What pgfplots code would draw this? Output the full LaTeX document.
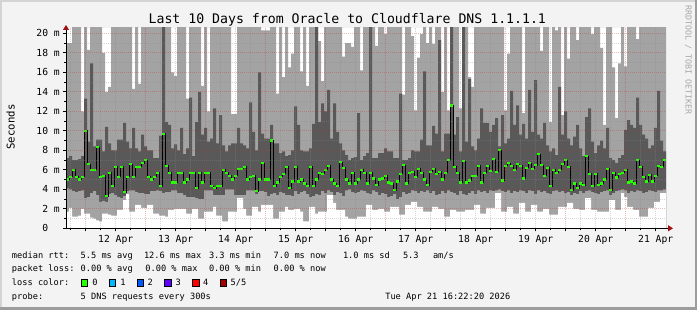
\documentclass[border=0pt]{standalone}
\usepackage{pgfplots}
\pgfplotsset{compat=1.18}
\usepackage{pgfplotstable}
\usepackage{fontspec}
\usetikzlibrary{arrows.meta}
\newfontfamily\rrd{DejaVu Sans Mono}
\definecolor{bgc}{HTML}{F3F3F3}
\definecolor{frlight}{HTML}{D4D4D4}
\definecolor{frdark}{HTML}{9C9C9C}
\definecolor{smokelight}{HTML}{A3A3A3}
\definecolor{smokedark}{HTML}{595959}
\definecolor{medgreen}{HTML}{26FF00}
\definecolor{mgridc}{HTML}{C03030}
\definecolor{gridc}{HTML}{8C8C8C}
\definecolor{arrowred}{HTML}{A01010}
\definecolor{sidegray}{HTML}{A8A8A8}
\definecolor{lc0}{HTML}{26FF00}
\definecolor{lc1}{HTML}{00B8FF}
\definecolor{lc2}{HTML}{0059FF}
\definecolor{lc3}{HTML}{5E00FF}
\definecolor{lc4}{HTML}{FF0000}
\definecolor{lc5}{HTML}{A00000}

\pgfplotstableread{
x lo q1 med q3 hi
0 1.7 4.1 5.0 7.2 19.0
3 2.1 4.0 5.3 7.4 19.0
6 1.2 3.8 6.0 7.0 21
9 1.2 3.7 5.3 7.0 21
12 1.3 3.8 5.0 7.1 21
15 2.0 3.9 5.3 7.4 12.0
18 1.5 3.1 10.0 13.3 21
21 1.5 3.2 6.6 8.9 18.3
24 1.1 3.6 6.0 16.9 21
27 1.0 3.8 6.0 8.4 21
30 0.8 3.4 8.3 9.1 21
33 0.7 2.7 5.3 9.1 21
36 1.5 2.8 5.4 7.9 18.0
39 1.5 2.7 3.3 10.4 14.0
42 1.4 3.5 5.7 8.7 14.5
45 1.3 3.6 4.3 8.0 21
48 1.3 3.4 6.3 8.0 21
51 1.9 3.2 5.3 9.1 21
54 1.9 3.1 6.3 9.1 21
57 2.9 3.3 3.7 10.8 21
60 3.5 3.8 5.3 8.9 21
63 1.7 3.9 6.6 8.2 21
66 1.7 3.9 5.3 10.3 14.3
69 2.4 3.7 6.3 8.2 21
72 2.4 3.6 6.3 7.9 14.8
75 2.1 3.6 6.7 9.6 21
78 2.1 3.5 7.0 8.4 21
81 2.4 3.5 5.3 8.0 21
84 2.4 3.8 5.0 8.0 21
87 1.5 3.8 5.3 7.2 21
90 1.5 3.9 5.7 7.2 21
93 1.3 3.8 4.3 9.5 21
96 1.3 3.6 9.7 21 21
99 1.2 3.7 6.4 10.9 21
102 1.9 3.7 5.7 10.6 21
105 1.9 3.9 4.7 8.2 16.0
108 2.0 3.9 4.7 8.6 15.6
111 2.0 3.6 5.7 8.0 21
114 2.0 3.6 5.7 10.3 21
117 2.0 3.4 4.7 7.6 21
120 1.5 3.2 5.0 8.2 13.3
123 1.5 3.2 5.7 13.4 21
126 2.0 3.2 5.7 7.4 21
129 2.0 3.1 4.1 10.9 21
132 1.0 3.0 5.7 14.0 21
135 1.0 3.0 4.7 9.6 14.6
138 1.7 3.9 5.7 10.3 21
141 1.7 3.9 5.7 8.9 12.0
144 1.7 3.9 4.3 9.2 21
147 2.2 3.4 4.1 12.3 21
150 1.3 3.4 4.3 8.7 21
153 1.3 3.4 4.3 11.6 21
156 0.7 3.4 6.0 8.5 21
159 0.7 4.0 5.7 7.9 21
162 1.7 4.0 5.4 8.5 21
165 1.7 4.0 5.0 8.7 11.7
168 1.7 3.4 5.4 8.7 11.7
171 3.1 3.4 6.1 10.3 21
174 3.1 3.4 6.1 8.7 21
177 2.0 3.4 6.3 8.5 21
180 1.3 3.9 5.0 8.2 21
183 1.3 3.9 5.3 12.9 21
186 2.2 3.9 5.4 9.9 21
189 2.2 3.5 3.8 8.0 21
192 1.7 3.8 5.0 16.0 21
195 2.4 3.8 6.7 9.7 20.3
198 2.4 3.7 5.0 9.2 20.3
201 2.4 3.3 5.0 9.2 20.3
204 2.4 3.5 9.0 10.6 21
207 1.0 3.6 4.3 8.7 21
210 1.0 3.4 4.7 8.7 13.8
213 1.7 3.7 5.3 7.7 21
216 1.7 3.6 5.6 7.9 15.5
219 2.2 3.4 6.3 7.4 21
222 1.9 3.4 4.1 7.5 16.5
225 1.9 3.3 4.8 8.0 17.9
228 2.0 3.8 6.3 12.5 21
231 2.0 3.5 4.8 10.6 21
234 1.7 3.7 5.0 8.0 16.1
237 0.7 3.8 4.6 7.9 21
240 0.7 3.5 4.3 7.9 14.6
243 2.2 3.2 6.3 8.2 21
246 2.2 3.3 4.3 10.7 21
249 1.5 3.5 5.0 21 21
252 1.7 3.4 5.7 10.9 19.2
255 1.7 3.8 5.6 12.8 15.1
258 1.7 3.6 6.0 12.0 21
261 3.4 3.9 6.4 14.2 21
264 3.4 3.7 5.0 9.2 21
267 2.6 3.4 4.6 12.8 21
270 1.9 3.7 4.3 9.9 21
273 1.9 3.6 6.8 8.7 21
276 1.9 3.3 6.2 8.0 17.6
279 1.2 3.9 5.0 7.5 19.0
282 1.0 4.0 4.6 7.0 19.0
285 1.0 3.7 5.7 7.2 18.6
288 1.0 3.6 4.6 7.3 21
291 1.2 3.7 5.0 11.8 21
294 1.2 3.9 6.0 7.0 16.2
297 1.2 3.8 5.7 7.4 21
300 2.4 3.6 4.6 7.7 21
303 2.4 3.5 5.7 21 21
306 1.9 3.9 5.1 7.2 21
309 1.9 3.7 4.4 7.2 18.7
312 2.0 3.4 5.0 7.7 21
315 2.0 3.6 5.1 7.7 21
318 1.7 3.5 5.4 8.2 19.9
321 1.7 3.2 4.7 7.9 21
324 2.2 3.3 4.6 7.9 21
327 2.2 3.5 3.9 7.2 21
330 2.2 3.0 4.8 7.2 21
333 1.4 3.2 5.6 13.8 21
336 1.4 3.7 6.5 7.0 13.7
339 2.4 3.5 4.6 7.0 21
342 2.4 3.6 5.7 7.2 21
345 2.7 3.9 5.8 8.0 19.7
348 2.7 3.8 5.3 7.9 12.1
351 2.2 3.6 6.1 7.9 17.5
354 2.2 3.8 5.7 9.1 19.9
357 1.7 3.7 5.0 16.1 21
360 1.7 3.9 4.4 8.5 19.0
363 1.7 3.6 5.8 8.5 21
366 2.2 3.8 6.1 10.5 18.9
369 2.2 3.4 5.6 9.7 21
372 2.0 3.5 5.8 19.3 21
375 2.0 3.8 5.0 7.9 14.0
378 1.2 3.6 5.7 9.7 21
381 1.2 3.9 7.0 9.7 12.1
384 1.9 3.7 12.6 21 21
387 1.9 3.6 6.3 9.6 21
390 1.7 3.4 5.7 11.4 21
393 1.7 3.8 4.7 7.9 12.3
396 1.7 3.5 6.9 21 21
399 1.9 3.4 4.7 8.9 21
402 1.9 3.6 4.9 15.3 15.5
405 1.9 3.8 5.4 8.4 14.5
408 2.4 3.5 5.4 8.0 21
411 2.4 3.9 6.4 9.2 21
414 1.5 3.7 4.7 12.3 21
417 1.5 3.8 5.7 10.8 21
420 2.1 3.6 6.4 10.8 21
423 2.1 3.9 5.9 9.9 21
426 2.1 3.8 7.1 10.6 21
429 3.6 3.9 5.8 11.3 21
432 3.6 4.0 8.0 8.4 21
435 1.7 3.8 4.9 11.6 21
438 1.7 3.7 6.4 8.7 12.1
441 2.2 3.9 6.7 9.2 17.9
444 2.2 3.6 6.4 14.1 21
447 1.5 3.8 6.0 10.6 21
450 1.5 3.7 6.6 12.6 21
453 2.6 3.9 6.4 9.6 21
456 2.6 3.8 5.1 10.7 11.8
459 1.7 3.6 6.2 9.2 21
462 1.7 3.9 6.7 14.2 21
465 2.4 3.8 6.1 9.9 21
468 2.4 3.5 6.5 15.2 21
471 1.7 3.9 7.6 9.6 21
474 1.7 3.7 6.5 9.2 18.2
477 2.0 3.8 5.4 10.8 21
480 2.0 3.6 6.2 8.5 21
483 1.4 3.5 4.3 7.9 10.9
486 1.4 3.8 6.0 8.2 21
489 1.4 3.9 5.7 7.5 20.3
492 2.2 3.7 6.0 14.5 21
495 2.2 3.8 6.6 9.6 11.6
498 2.2 3.6 7.0 12.0 21
501 2.6 3.7 6.3 9.2 17.4
504 2.6 3.4 3.9 8.5 21
507 2.0 3.6 4.6 9.4 21
510 2.0 3.5 4.1 10.6 19.3
513 1.9 3.8 4.6 8.2 21
516 1.9 3.6 4.4 7.4 21
519 3.1 3.8 7.4 11.4 21
522 3.1 3.9 5.6 12.3 21
525 1.9 3.7 4.3 8.9 19.9
528 1.9 3.6 5.6 7.7 21
531 1.7 3.5 4.4 8.5 21
534 1.7 3.7 4.6 9.0 18.5
537 1.7 3.8 5.0 8.2 10.6
540 1.7 3.9 6.1 10.3 21
543 2.9 3.4 3.9 7.2 21
546 2.9 3.6 5.7 7.0 16.5
549 1.9 3.8 5.2 6.7 11.3
552 1.9 3.9 5.6 7.2 16.9
555 3.6 4.0 5.7 7.5 21
558 3.2 3.9 6.0 10.1 16.6
561 2.2 3.6 4.7 11.1 21
564 2.2 3.8 4.8 10.6 21
567 1.9 3.7 4.6 10.3 21
570 1.9 3.9 7.0 13.4 19.4
573 1.2 3.8 6.3 10.6 21
576 1.2 3.6 5.3 9.6 21
579 1.2 3.7 4.8 9.2 21
582 2.1 3.9 5.5 8.2 21
585 2.1 3.8 4.8 8.5 21
588 2.7 3.7 5.4 10.3 21
591 2.7 3.9 6.4 14.1 21
594 3.6 3.9 6.3 9.0 21
597 3.6 4.0 7.0 7.9 21
600 3.6 4.0 7.0 7.9 21
}\smoke

\begin{document}
\begin{tikzpicture}
\begin{scope}[x=1pt,y=1pt]
\path[use as bounding box] (0,0) rectangle (697,310);
\fill[bgc] (0,0) rectangle (697,310);
\draw[frlight, line width=2pt] (1,0) -- (1,309) -- (697,309);
\draw[frdark, line width=2.5pt] (0,1.25) -- (695.75,1.25) -- (695.75,310);
\end{scope}

\begin{axis}[
  at={(66pt,81.7pt)}, anchor=south west,
  scale only axis, width=600pt, height=200.3pt,
  xmin=0, xmax=600, ymin=0, ymax=20.54,
  axis on top,
  axis background/.style={fill=white},
  axis lines=left,
  axis line style={black, line width=1pt},
  every outer x axis line/.append style={-{Triangle[length=5pt,width=6pt,color=arrowred]}, shorten >=-7pt},
  every outer y axis line/.append style={-{Triangle[length=5pt,width=6pt,color=arrowred]}, shorten >=-3pt},
  xtick={49.7,109.7,169.7,229.7,289.7,349.7,409.7,469.7,529.7,589.7},
  xticklabels={12 Apr,13 Apr,14 Apr,15 Apr,16 Apr,17 Apr,18 Apr,19 Apr,20 Apr,21 Apr},
  minor xtick={4.7,34.7,49.7,64.7,94.7,109.7,124.7,154.7,169.7,184.7,214.7,229.7,244.7,274.7,289.7,304.7,334.7,349.7,364.7,394.7,409.7,424.7,454.7,469.7,484.7,514.7,529.7,544.7,574.7,589.7},
  extra x ticks={19.7,79.7,139.7,199.7,259.7,319.7,379.7,439.7,499.7,559.7},
  extra x tick labels={},
  extra x tick style={grid=major, major tick length=3pt},
  xminorgrids,
  ytick={0,2,4,6,8,10,12,14,16,18,20},
  yticklabels={\hphantom{0}0\hphantom{00},\hphantom{0}2 m,\hphantom{0}4 m,\hphantom{0}6 m,\hphantom{0}8 m,10 m,12 m,14 m,16 m,18 m,20 m},
  minor y tick num=1,
  ymajorgrids, yminorgrids,
  major grid style={draw=mgridc, opacity=0.32, line width=0.6pt, dash pattern=on 1pt off 1pt},
  minor grid style={draw=gridc, opacity=0.35, line width=0.6pt, dash pattern=on 1pt off 1pt},
  tick align=outside,
  major tick length=3pt, minor tick length=2pt,
  tick style={black, line width=0.6pt},
  ticklabel style={font=\rrd\fontsize{9.7}{11}\selectfont},
  yticklabel style={anchor=east, inner sep=0pt, xshift=-3pt},
  xticklabel style={anchor=base, inner sep=0pt, yshift=-11pt},
]
\addplot[fill=smokelight, draw=none, const plot mark left] table[x=x,y=hi]{\smoke} \closedcycle;
\addplot[fill=smokedark, draw=none, const plot mark left] table[x=x,y=q3]{\smoke} \closedcycle;
\addplot[fill=smokelight, draw=none, const plot mark left] table[x=x,y=q1]{\smoke} \closedcycle;
\addplot[fill=white, draw=none, const plot mark left] table[x=x,y=lo]{\smoke} \closedcycle;
\addplot[black, line width=0.8pt, const plot mark left, no markers] table[x=x,y=med]{\smoke};
\addplot[draw=medgreen, line width=2.2pt, no markers, quiver={u=3,v=0}] table[x=x,y=med]{\smoke};
\end{axis}

\begin{scope}[x=1pt,y=1pt]
\node[anchor=base, inner sep=0pt, font=\rrd\fontsize{13.2}{15}\selectfont] at (347.3,286) {Last 10 Days from Oracle to Cloudflare DNS 1.1.1.1};
\node[rotate=90, anchor=center, inner sep=0pt, font=\rrd\fontsize{10.7}{12}\selectfont] at (10.7,183) {Seconds};
\node[rotate=-90, anchor=center, inner sep=0pt, text=sidegray, font=\rrd\fontsize{8.3}{10}\selectfont] at (688.3,250) {RRDTOOL / TOBI OETIKER};
\begin{scope}[every node/.style={anchor=base west, inner sep=0pt, font=\rrd\fontsize{8.65}{10}\selectfont}]
\node at (11.8,51.7) {median rtt:};
\node at (80.5,51.7) {5.5 ms avg};
\node at (143.8,51.7) {12.6 ms max};
\node at (208.8,51.7) {3.3 ms min};
\node at (273.5,51.7) {7.0 ms now};
\node at (342.8,51.7) {1.0 ms sd};
\node at (402.8,51.7) {5.3};
\node at (432.8,51.7) {am/s};
\node at (11.8,38.3) {packet loss:};
\node at (80.5,38.3) {0.00 \% avg};
\node at (145.2,38.3) {0.00 \% max};
\node at (208.8,38.3) {0.00 \% min};
\node at (273.5,38.3) {0.00 \% now};
\node at (11.8,24) {loss color:};
\node at (92.2,24) {0};
\node at (120.2,24) {1};
\node at (147.5,24) {2};
\node at (175.5,24) {3};
\node at (202.8,24) {4};
\node at (230.5,24) {5/5};
\node at (11.8,10) {probe:};
\node at (80.5,10) {5 DNS requests every 300s};
\node[anchor=base east] at (510.5,10) {Tue Apr 21 16:22:20 2026};
\end{scope}
\draw[fill=lc0, draw=black, line width=0.6pt] (81,23.3) rectangle (87.3,30.7);
\draw[fill=lc1, draw=black, line width=0.6pt] (109.3,23.3) rectangle (115.6,30.7);
\draw[fill=lc2, draw=black, line width=0.6pt] (137,23.3) rectangle (143.3,30.7);
\draw[fill=lc3, draw=black, line width=0.6pt] (164.7,23.3) rectangle (171,30.7);
\draw[fill=lc4, draw=black, line width=0.6pt] (192.7,23.3) rectangle (199,30.7);
\draw[fill=lc5, draw=black, line width=0.6pt] (220,23.3) rectangle (226.3,30.7);
\end{scope}
\end{tikzpicture}
\end{document}
